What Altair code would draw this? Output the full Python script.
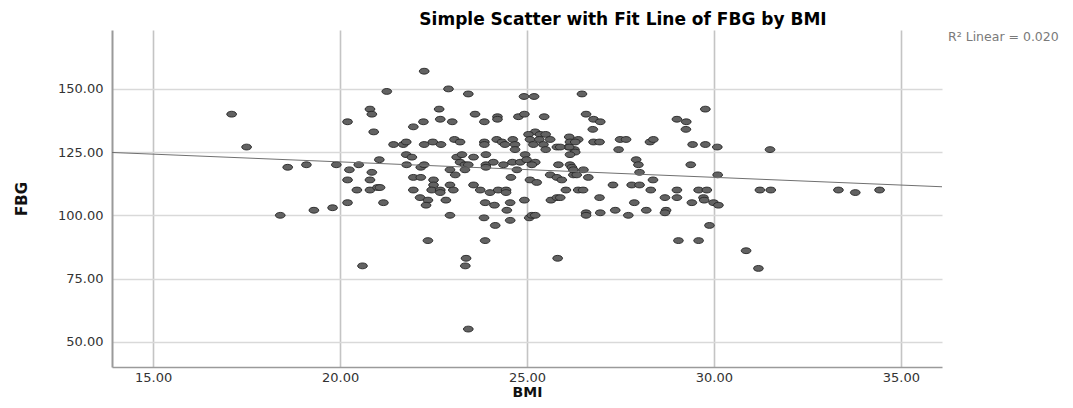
import altair as alt
import pandas as pd

bmi = [17.10, 17.50, 18.60, 19.10, 19.90, 20.20, 20.80, 20.85, 20.90, 21.43,
       21.05, 20.50, 20.25, 20.85, 20.20, 20.80, 20.45, 20.80, 21.00, 20.20,
       21.16, 19.80, 19.30, 18.40, 20.60, 21.25, 22.25, 22.90, 23.43, 24.92,
       25.19, 26.47, 22.65, 23.61, 22.23, 21.96, 22.68, 23.00, 23.86, 24.21,
       24.21, 24.77, 24.93, 25.46, 25.22, 25.04, 25.35, 25.50, 26.13, 21.69,
       21.77, 22.25, 22.48, 22.70, 23.06, 23.21, 23.86, 23.86, 24.19, 24.33,
       24.41, 24.62, 24.68, 24.68, 25.08, 25.17, 25.33, 25.44, 25.50, 25.62,
       25.80, 26.11, 26.15, 26.27, 26.37, 21.77, 21.92, 21.78, 22.16, 22.25,
       23.12, 23.26, 23.57, 23.90, 23.21, 23.34, 23.43, 23.90, 23.90, 24.10,
       24.37, 24.61, 24.82, 24.95, 24.99, 24.73, 25.22, 25.13, 25.84, 26.15,
       26.20, 22.94, 23.08, 23.34, 21.96, 22.16, 22.50, 22.94, 23.57, 24.57,
       25.08, 25.26, 25.62, 25.80, 25.93, 26.24, 22.50, 21.96, 22.45, 22.68,
       22.68, 23.03, 23.75, 24.01, 24.23, 24.44, 24.44, 26.04, 26.37, 21.07,
       22.14, 22.35, 22.30, 22.83, 23.88, 24.13, 24.55, 24.93, 25.64, 25.80,
       24.46, 22.94, 23.85, 24.15, 24.55, 25.06, 25.13, 25.22, 22.35, 23.88,
       23.37, 23.35, 25.82, 23.43, 26.58, 26.78, 26.96, 26.76, 29.77, 29.01,
       29.26, 29.25, 26.29, 26.13, 25.89, 26.78, 26.94, 27.49, 27.65, 28.29,
       28.38, 27.45, 26.29, 26.15, 29.43, 29.77, 30.09, 26.24, 26.51, 26.33,
       26.64, 27.92, 27.98, 28.01, 28.37, 29.38, 30.10, 27.30, 27.80, 28.01,
       26.50, 28.31, 29.01, 29.59, 29.81, 25.89, 26.94, 27.87, 28.69, 29.01,
       29.41, 29.72, 29.74, 29.99, 30.12, 26.58, 26.58, 26.96, 27.36, 27.71,
       28.19, 28.72, 28.69, 29.88, 29.05, 29.59, 30.86, 31.19, 31.50, 31.23,
       31.52, 33.33, 33.78, 34.43]

fbg = [140, 127, 119, 120, 120, 137, 142, 140, 133, 128,
       122, 120, 118, 117, 114, 114, 110, 110, 111, 105,
       105, 103, 102, 100, 80, 149, 157, 150, 148, 147,
       147, 148, 142, 140, 137, 135, 138, 137, 137, 139,
       138, 139, 140, 139, 133, 132, 132, 132, 131, 128,
       129, 128, 129, 128, 130, 129, 129, 128, 130, 129,
       128, 130, 128, 126, 130, 128, 130, 128, 126, 130,
       127, 127, 129, 126, 130, 124, 123, 120, 119, 120,
       123, 124, 123, 124, 121, 120, 120, 120, 119, 121,
       120, 121, 121, 124, 122, 118, 121, 120, 120, 120,
       119, 118, 116, 118, 115, 115, 114, 112, 112, 115,
       114, 113, 116, 115, 114, 116, 112, 110, 110, 110,
       109, 110, 110, 109, 110, 110, 109, 110, 110, 111,
       107, 106, 104, 106, 105, 104, 105, 106, 106, 107,
       102, 100, 99, 96, 98, 99, 100, 100, 90, 90,
       83, 80, 83, 55, 140, 138, 137, 134, 142, 138,
       137, 134, 129, 127, 127, 129, 129, 130, 130, 129,
       130, 126, 125, 124, 128, 128, 127, 118, 118, 116,
       115, 122, 120, 117, 114, 120, 116, 112, 112, 112,
       110, 110, 110, 110, 110, 107, 107, 105, 107, 107,
       105, 107, 106, 105, 104, 101, 100, 101, 102, 100,
       102, 102, 101, 96, 90, 90, 86, 79, 126, 110,
       110, 110, 109, 110]

x_ticks = [15, 20, 25, 30, 35]
y_ticks = [50, 75, 100, 125, 150]
r2_label = ["R\u00b2 Linear = 0.020"]
title_text = ["Simple Scatter with Fit Line of FBG by BMI"]

df = pd.DataFrame({"BMI": bmi, "FBG": fbg})

FONT = "DejaVu Sans"
ellipse = "M-1,0A1,0.6,0,1,1,1,0A1,0.6,0,1,1,-1,0Z"

x_scale = alt.Scale(domain=[13.9, 36.1], nice=False, zero=False)
y_scale = alt.Scale(domain=[40, 173.3], nice=False, zero=False)

x_axis = alt.Axis(values=x_ticks, format=".2f", title="BMI", grid=True,
                  gridColor="#c4c4c4", gridWidth=1.6, domainColor="#9a9a9a",
                  domainWidth=1.5, ticks=False, labelFont=FONT, labelFontSize=13,
                  labelColor="#333333", labelPadding=4, titleFont=FONT,
                  titleFontSize=14, titleFontWeight="bold", titleColor="#111111",
                  titleY=29, titleBaseline="alphabetic")
y_axis = alt.Axis(values=y_ticks, format=".2f", title="FBG", grid=True,
                  gridColor="#d9d9d9", gridWidth=1.3, domainColor="#9a9a9a",
                  domainWidth=2, ticks=False, labelFont=FONT, labelFontSize=13,
                  labelColor="#333333", labelPadding=9, titleFont=FONT,
                  titleFontSize=15, titleFontWeight="bold", titleColor="#111111",
                  titleX=-91, titleY=168.5, titleAlign="center", titleBaseline="middle")

base = alt.Chart(df)

points = base.mark_point(shape=ellipse, size=95, filled=True, fill="#626262",
                         stroke="#262626", strokeWidth=0.9, opacity=1).encode(
    x=alt.X("BMI:Q", scale=x_scale, axis=x_axis),
    y=alt.Y("FBG:Q", scale=y_scale, axis=y_axis),
)

fit = base.transform_regression("BMI", "FBG", extent=[13.9, 36.1]).mark_line(
    color="#707070", strokeWidth=1).encode(
    x=alt.X("BMI:Q", scale=x_scale),
    y=alt.Y("FBG:Q", scale=y_scale),
)

r2 = alt.Chart(pd.DataFrame({"t": r2_label})).mark_text(
    align="left", baseline="middle", font=FONT, fontSize=12.5, color="#7a7a7a").encode(
    x=alt.value(836), y=alt.value(7), text="t:N")

title = alt.Chart(pd.DataFrame({"t": title_text})).mark_text(
    align="center", baseline="alphabetic", font=FONT, fontSize=17,
    fontWeight="bold", color="#000000").encode(
    x=alt.value(511), y=alt.value(-5), text="t:N")

chart = alt.layer(points, fit, r2, title).properties(
    width=830, height=337,
    padding={"left": 104, "top": 22, "right": 123, "bottom": 33},
    autosize=alt.AutoSizeParams(type="none"),
).configure_view(strokeWidth=0)

chart.save("out.html", embed_options={"renderer": "svg", "actions": False})
